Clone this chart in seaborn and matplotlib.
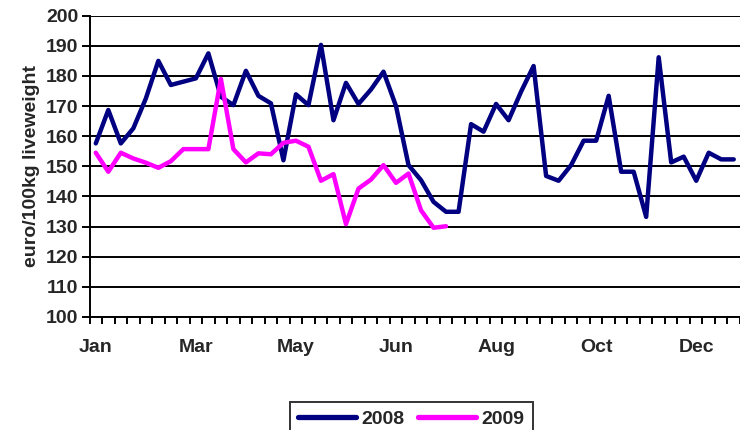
import matplotlib
matplotlib.use("Agg")
import matplotlib.pyplot as plt
import seaborn as sns
import pandas as pd
import numpy as np

values_2008 = [157.6, 168.7, 157.6, 162.6, 172.5, 185.0, 177.0, 178.1, 179.2, 187.5,
               173.1, 170.3, 181.7, 173.4, 170.9, 152.0, 173.9, 170.3, 190.3, 165.3,
               177.7, 170.7, 175.5, 181.4, 170.0, 150.4, 145.4, 138.2, 134.9, 134.9,
               164.0, 161.5, 170.7, 165.3, 174.8, 183.3, 146.8, 145.2, 150.4, 158.5,
               158.5, 173.4, 148.2, 148.2, 133.2, 186.2, 151.3, 153.2, 145.2, 154.5,
               152.3, 152.3]
values_2009 = [154.5, 148.2, 154.5, 152.6, 151.2, 149.5, 151.7, 155.7, 155.7, 155.7,
               179.0, 155.7, 151.3, 154.3, 154.0, 157.8, 158.5, 156.5, 145.2, 147.4,
               130.8, 142.6, 145.6, 150.4, 144.5, 147.6, 135.4, 129.6, 130.1]
month_labels = ["Jan", "Mar", "May", "Jun", "Aug", "Oct", "Dec"]
label_weeks = [0, 8, 16, 24, 32, 40, 48]
years = ["2008", "2009"]
colors = ["#000080", "#FF00FF"]

df = pd.concat([
    pd.DataFrame({"week": np.arange(len(values_2008)), "value": values_2008, "year": years[0]}),
    pd.DataFrame({"week": np.arange(len(values_2009)), "value": values_2009, "year": years[1]}),
])

sns.set_style("white")
plt.rcParams['font.family'] = ['Liberation Sans', 'DejaVu Sans']
plt.rcParams['font.weight'] = 'bold'

fig = plt.figure(figsize=(7.4, 4.3), dpi=100)
ax = fig.add_axes([0.121, 0.263, 0.879, 0.7005])

sns.lineplot(data=df, x="week", y="value", hue="year", palette=colors,
             linewidth=3.2, sort=False, ax=ax, legend=False)

ax.set_xlim(-0.5, 51.5)
ax.set_ylim(100, 200)
ax.set_yticks(np.arange(100, 201, 10))
ax.yaxis.grid(True, color="black", linewidth=1.4)
ax.set_axisbelow(True)

ax.set_xticks(label_weeks)
ax.set_xticklabels(month_labels, fontsize=14, fontweight="bold")
ax.set_xticks(np.arange(-0.5, 52, 1), minor=True)
ax.tick_params(axis="x", which="major", bottom=True, length=0, pad=16)
ax.tick_params(axis="x", which="minor", bottom=True, length=5, width=1.4, color="black", direction="out")
ax.tick_params(axis="y", left=True, length=6, width=1.4, color="black", direction="out", labelsize=14, pad=2)
for lab in ax.get_yticklabels():
    lab.set_fontweight("bold")

for s in ["top", "right"]:
    ax.spines[s].set_visible(False)
for s in ["left", "bottom"]:
    ax.spines[s].set_color("black")
    ax.spines[s].set_linewidth(1.4)

ax.set_xlabel("")
ax.set_ylabel("euro/100kg liveweight", fontsize=14, fontweight="bold", labelpad=4)

handles = [plt.Line2D([], [], color=c, linewidth=3.8, solid_capstyle="round") for c in colors]
leg = fig.legend(handles, years, loc="upper center", bbox_to_anchor=(0.556, 0.088), ncol=2,
                 frameon=True, fancybox=False, edgecolor="black", handlelength=2.95,
                 columnspacing=0.7, handletextpad=0.3, borderpad=0.45,
                 prop={"size": 14, "weight": "bold"})
leg.get_frame().set_linewidth(1.4)

fig.savefig("out.png", dpi=100)
